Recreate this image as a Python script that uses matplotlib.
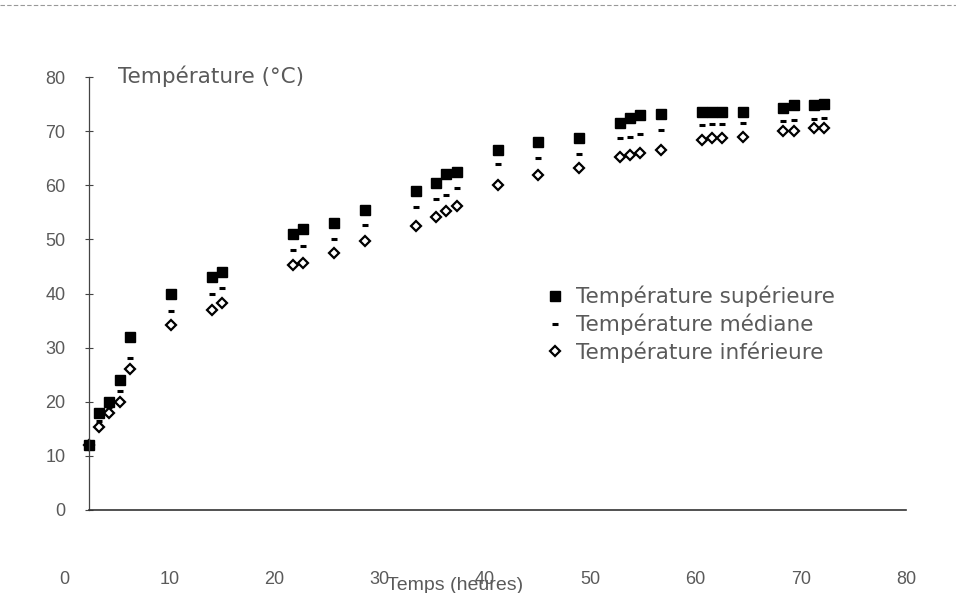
import matplotlib.pyplot as plt
from matplotlib.lines import Line2D
from matplotlib.transforms import ScaledTranslation

plt.rcParams['font.family'] = ['Liberation Sans', 'DejaVu Sans']

# temps (heures)
temps = [0, 1, 2, 3, 4, 8, 12, 13, 20, 21, 24, 27, 32, 34, 35, 36, 40, 44, 48,
         52, 53, 54, 56, 60, 61, 62, 64, 68, 69, 71, 72]

t_sup = [12, 18, 20, 24, 32, 40, 43, 44, 51, 52, 53, 55.5, 59, 60.5, 62, 62.5,
         66.5, 68, 68.7, 71.5, 72.4, 72.9, 73.2, 73.6, 73.6, 73.6, 73.6,
         74.2, 74.8, 74.8, 75]
t_med = [12, 16.5, 19, 22, 28, 36.8, 40, 41, 48, 48.7, 50, 52.7, 56, 57.4,
         58.2, 59.5, 64, 65, 65.7, 68.7, 69, 69.4, 70.2, 71.2, 71.3, 71.3,
         71.5, 71.8, 72.1, 72.2, 72.4]
t_inf = [12, 15.4, 17.9, 20, 26, 34.2, 37, 38.3, 45.3, 45.6, 47.4, 49.7, 52.4,
         54.2, 55.2, 56.1, 60.1, 61.9, 63.2, 65.3, 65.6, 65.9, 66.5, 68.4,
         68.7, 68.7, 69, 70, 70, 70.5, 70.5]

x_ticks = [0, 10, 20, 30, 40, 50, 60, 70, 80]
y_ticks = [0, 10, 20, 30, 40, 50, 60, 70, 80]

txt = '#5a5a5a'

fig = plt.figure(figsize=(9.56, 5.93), dpi=100)
ax = fig.add_axes([89 / 956, 83 / 593, 817 / 956, 433 / 593])

ax.plot(temps, t_sup, ls='none', marker='s', ms=6.5, color='black',
        label='Température supérieure', clip_on=False)
ax.plot(temps, t_med, ls='none', marker='_', ms=5, mew=2.2, color='black',
        label='Température médiane', clip_on=False)
ax.plot(temps, t_inf, ls='none', marker='D', ms=5.5, mfc='none', mew=1.6,
        color='black', label='Température inférieure', clip_on=False)

ax.set_xlim(0, 80)
ax.set_ylim(0, 80)
for s in ['top', 'right']:
    ax.spines[s].set_visible(False)
ax.spines['left'].set_color('#444444')
ax.spines['left'].set_linestyle((0, (2, 1)))
ax.spines['left'].set_linewidth(0.9)
ax.spines['bottom'].set_color('#333333')
ax.spines['bottom'].set_linewidth(1.2)

ax.set_xticks(x_ticks)
ax.set_yticks(y_ticks)
ax.tick_params(axis='x', length=0, pad=44, labelsize=13, labelcolor=txt)
ax.tick_params(axis='y', direction='inout', length=6, width=0.8,
               color='#444444', pad=14, labelsize=13, labelcolor=txt)

# x labels drift to the left of their ticks, as on the scanned original
for v, lab in zip(x_ticks, ax.get_xticklabels()):
    dx = -0.25 * (1 - v / 80)
    lab.set_transform(lab.get_transform() + ScaledTranslation(dx, 0, fig.dpi_scale_trans))

fig.text(118 / 956, 1 - 76 / 593, 'Température (°C)', fontsize=15.5,
         family='DejaVu Sans', color=txt, va='center', ha='left')
fig.text(455 / 956, 1 - 586 / 593, 'Temps (heures)', fontsize=14,
         color=txt, va='center', ha='center')

ax.legend(loc='upper left', bbox_to_anchor=(536 / 956, 1 - 277 / 593),
          bbox_transform=fig.transFigure, frameon=False,
          prop={'family': 'DejaVu Sans', 'size': 15.5},
          handletextpad=0.45, labelspacing=0.3, labelcolor=txt,
          handlelength=1.0, borderaxespad=0)

# faint scan edge at the top
fig.add_artist(Line2D([0, 1], [1 - 5 / 593, 1 - 5 / 593], color='#999999',
                      lw=0.8, ls=(0, (4, 2))))

fig.savefig('out.png', dpi=100)
